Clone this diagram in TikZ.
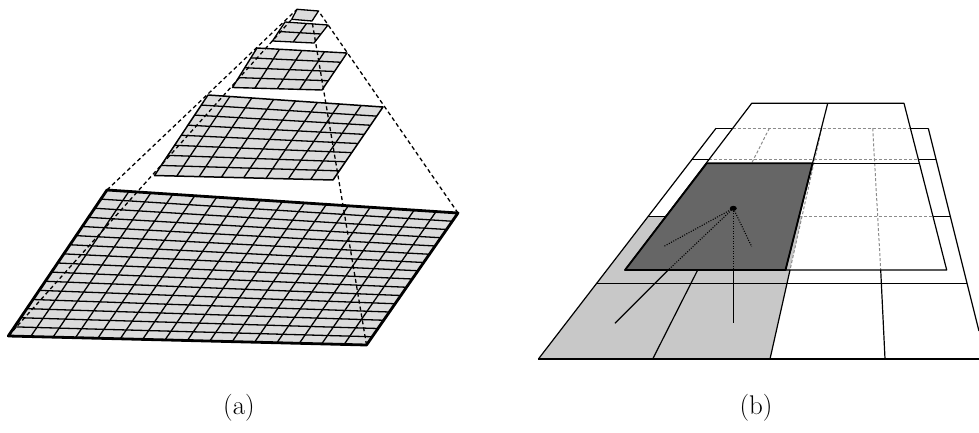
\documentclass[tikz,border=0pt]{standalone}
\usetikzlibrary{calc}
\definecolor{afill}{RGB}{220,220,220}
\definecolor{blight}{RGB}{200,200,200}
\definecolor{bdark}{RGB}{102,102,102}
\definecolor{bhid}{RGB}{140,140,140}
\tikzset{
  gridin/.style={line width=1.3pt, black},
  projline/.style={line width=1.3pt, black, dash pattern=on 4pt off 3pt},
  bline/.style={line width=1.2pt, black},
  bhidden/.style={line width=1pt, bhid, dash pattern=on 3pt off 2pt},
  raydot/.style={line width=1.1pt, black, dash pattern=on 1pt off 1.5pt},
  raysolid/.style={line width=1.2pt, black},
  lbl/.style={font=\fontsize{27}{32}\selectfont}
}
\newcommand\pyrlevel[6]{%
  \coordinate (ptl) at #1; \coordinate (ptr) at #2;
  \coordinate (pbr) at #3; \coordinate (pbl) at #4;
  \fill[afill] (ptl)--(ptr)--(pbr)--(pbl)--cycle;
  \pgfmathtruncatemacro\pyrm{#5-1}%
  \ifnum\pyrm>0
    \foreach \i in {1,...,\pyrm}{%
      \draw[gridin] ($(ptl)!\i/#5!(ptr)$) -- ($(pbl)!\i/#5!(pbr)$);
      \draw[gridin] ($(ptl)!\i/#5!(pbl)$) -- ($(ptr)!\i/#5!(pbr)$);
    }%
  \fi
  \draw[line width=#6, line join=round] (ptl)--(ptr)--(pbr)--(pbl)--cycle;
}
\begin{document}
\begin{tikzpicture}[x=1pt,y=-1pt]
\useasboundingbox (0,0) rectangle (979,433);
% ---------------- panel (a) ----------------
\pyrlevel{(107,190)}{(458,213)}{(366.5,345)}{(8.3,336)}{16}{2.8pt}
\pyrlevel{(208,95)}{(383,107)}{(333,180)}{(154.5,175.5)}{8}{1.5pt}
\pyrlevel{(257,48)}{(347,53)}{(322,90)}{(232.5,87.5)}{4}{1.4pt}
\pyrlevel{(285,22)}{(328,25)}{(314,43)}{(272.5,41)}{2}{1.3pt}
\pyrlevel{(297,9.3)}{(318.5,11)}{(312,21)}{(291.7,19.3)}{1}{1.3pt}
\coordinate (a0tl) at (107,190); \coordinate (a0tr) at (458,213);
\coordinate (a0br) at (366.5,345); \coordinate (a0bl) at (8.3,336);
\coordinate (a4tl) at (297,9.3); \coordinate (a4tr) at (318.5,11);
\coordinate (a4br) at (312,21); \coordinate (a4bl) at (291.7,19.3);
\draw[projline] (a0tl) -- (a4tl);
\draw[projline] (a0tr) -- (a4tr);
\draw[projline] (a0br) -- (a4br);
\draw[projline] (a0bl) -- (a4bl);
\node[lbl] (la) at (239,408) {(a)};
% ---------------- panel (b) ----------------
% fills
\fill[blight] (647.9,216.7) -- (801.9,216.7) -- (770,359) -- (538.4,359) -- cycle;
\coordinate (dtl) at (706.7,163.3); \coordinate (dtr) at (812.5,163.3);
\coordinate (dbr) at (785.5,270);   \coordinate (dbl) at (625,270);
\fill[bdark] (dtl) -- (dtr) -- (dbr) -- (dbl) -- cycle;
% hidden (dashed) parts of the lower grid
\draw[bhidden] (732.7,128.3) -- (910.4,128.3);
\draw[bhidden] (709.1,159.3) -- (918.3,159.3);
\draw[bhidden] (799,216.7) -- (932.9,216.7);
\draw[bhidden] (769.3,128.3) -- (751.6,163.3);
\draw[bhidden] (821.7,128.3) -- (790,270);
\draw[bhidden] (872.7,128.3) -- (880.7,270);
% visible parts of the lower grid
\draw[bline] (716,128.3) -- (732.7,128.3);
\draw[bline] (910.4,128.3) -- (928.3,128.3);
\draw[bline] (692.1,159.3) -- (709.1,159.3);
\draw[bline] (918.3,159.3) -- (936,159.3);
\draw[bline] (647.9,216.7) -- (665.5,216.7);
\draw[bline] (932.9,216.7) -- (950.4,216.7);
\draw[bline] (596.2,283.7) -- (967.2,283.7);
\draw[bline] (538.4,359) -- (979,359);
\draw[bline] (716,128.3) -- (538.4,359);
\draw[bline] (928.3,128.3) -- (979,331.1);
\draw[bline] (697.7,270) -- (652.7,359);
\draw[bline] (790,270) -- (770,359);
\draw[bline] (880.7,270) -- (885,359);
% upper coarse grid
\coordinate (utl) at (751.7,103.3); \coordinate (utr) at (904,103.3);
\coordinate (ubr) at (946.7,270);   \coordinate (ubl) at (625,270);
\draw[bline, line join=round] (utl) -- (utr) -- (ubr) -- (ubl) -- cycle;
\draw[bline] (706.7,163.3) -- (919.3,163.3);
\draw[bline] (827.7,103.3) -- (dbr);
\draw[line width=1.8pt, line join=round] (dtl) -- (dtr) -- (dbr) -- (dbl) -- cycle;
% rays
\coordinate (apex) at (733.3,208.3);
\fill (apex) ellipse (3.5pt and 2.5pt);
\draw[raydot] (apex) -- (663.3,246.7);
\draw[raydot] (apex) -- (751.7,246.7);
\draw[raydot] (apex) -- (668.3,270);
\draw[raysolid] (668.3,270) -- (615,323.3);
\draw[raydot] (apex) -- (733.3,270);
\draw[raysolid] (733.3,270) -- (733.3,323.3);
\node[lbl] (lb) at (756,408) {(b)};
\end{tikzpicture}
\end{document}
